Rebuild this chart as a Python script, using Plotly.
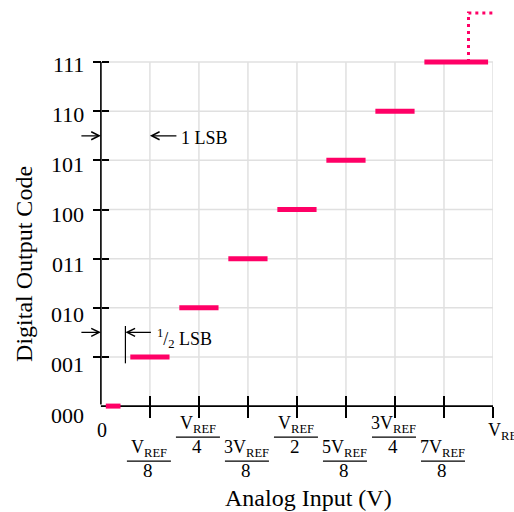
import plotly.graph_objects as go

# ---- data ----
codes = [0, 1, 2, 3, 4, 5, 6, 7]
code_labels = ["000", "001", "010", "011", "100", "101", "110", "111"]
bar_start = [0.1, 0.6, 1.6, 2.6, 3.6, 4.6, 5.6, 6.6]
bar_end = [0.4, 1.4, 2.4, 3.4, 4.4, 5.4, 6.4, 7.9]
overflow_x = [7.5, 7.5, 8.0]
overflow_y = [7, 8, 8]
x_ticks = [1, 2, 3, 4, 5, 6, 7, 8]
frac_num = ["V<sub>REF</sub>", "V<sub>REF</sub>", "3V<sub>REF</sub>", "V<sub>REF</sub>",
            "5V<sub>REF</sub>", "3V<sub>REF</sub>", "7V<sub>REF</sub>"]
frac_den = ["8", "4", "8", "2", "8", "4", "8"]
lsb_level = 5.5
half_lsb_level = 1.5

PINK = "#ff0066"
GRID = "#e0e0e0"
FONT = "Liberation Serif"

X_RANGE = [-0.1, 8]
Y_RANGE = [-0.1, 8.1]
UNIT_X = 49.0
UNIT_Y = 49.17
LEFT_PX = 101 + (X_RANGE[0] - 0) * UNIT_X
TOP_PX = 12.6 - (Y_RANGE[1] - 8) * UNIT_Y
BOT_PX = 406 + (0 - Y_RANGE[0]) * UNIT_Y


def xdom(v):
    return (v - X_RANGE[0]) / (X_RANGE[1] - X_RANGE[0])


def ydom(v):
    return (v - Y_RANGE[0]) / (Y_RANGE[1] - Y_RANGE[0])


X_AXIS_POS = ydom(0)
Y_AXIS_POS = xdom(0)

fig = go.Figure()

# grid lines (vertical only up to code 111, horizontal 0..VREF)
for xv in x_ticks:
    fig.add_shape(type="line", xref="x", yref="y", x0=xv, x1=xv, y0=0, y1=codes[-1],
                  line=dict(color=GRID, width=1.5), layer="below")
for c in codes[1:]:
    fig.add_shape(type="line", xref="x", yref="y", x0=0, x1=x_ticks[-1], y0=c, y1=c,
                  line=dict(color=GRID, width=1.5), layer="below")

# x axis line
fig.add_trace(go.Scatter(x=[0, x_ticks[-1]], y=[0, 0],
                         mode="lines", line=dict(color="black", width=1.6),
                         cliponaxis=False, hoverinfo="skip", showlegend=False))

# transfer-function steps
bx, by = [], []
for c, s, e in zip(codes, bar_start, bar_end):
    bx += [s, e, None]
    by += [c, c, None]
fig.add_trace(go.Scatter(x=bx, y=by, mode="lines", line=dict(color=PINK, width=5),
                         cliponaxis=False, hoverinfo="skip", showlegend=False))

# overflow dotted line
fig.add_trace(go.Scatter(x=overflow_x, y=overflow_y, mode="lines",
                         line=dict(color=PINK, width=3, dash="3px,4px"),
                         cliponaxis=False, hoverinfo="skip", showlegend=False))

# dummy trace for overlay axes
fig.add_trace(go.Scatter(x=[None], y=[None], xaxis="x2", yaxis="y2",
                         hoverinfo="skip", showlegend=False))

# y axis line (from code 000 up to code 111), drawn in the annotation layer
fig.add_annotation(x=0, y=codes[-1], ax=0, ay=codes[0], xref="x", yref="y",
                   axref="x", ayref="y", text="", showarrow=True, arrowhead=0,
                   arrowwidth=1.6, arrowcolor="black", standoff=0, startstandoff=0)

# y tick labels
for c, lab in zip(codes, code_labels):
    fig.add_annotation(x=0, y=c, xref="x", yref="y", text=lab, showarrow=False,
                       xanchor="right", yanchor="middle", xshift=-15,
                       yshift=-(2 + (codes[-1] - c)),
                       font=dict(family=FONT, size=22, color="black"))

# x tick labels
fig.add_annotation(x=0, y=0, xref="x", yref="y", text="0", showarrow=False,
                   xanchor="center", yanchor="middle", xshift=1, yshift=-24,
                   font=dict(family=FONT, size=20, color="black"))
fig.add_annotation(x=x_ticks[-1], y=0, xref="x", yref="y", text="V<sub>REF</sub>",
                   showarrow=False, xanchor="left", yanchor="middle", xshift=-7, yshift=-25,
                   font=dict(family=FONT, size=18, color="black"))
for i, (num, den) in enumerate(zip(frac_num, frac_den)):
    xv = x_ticks[i]
    low = (i % 2 == 0)
    num_y = -42 if low else -18
    den_y = -64 if low else -40
    line_y = -55 if low else -31
    fig.add_annotation(x=xv, y=0, xref="x", yref="y", text=num, showarrow=False,
                       xanchor="center", yanchor="middle", xshift=-1, yshift=num_y,
                       font=dict(family=FONT, size=18, color="black"))
    fig.add_annotation(x=xv, y=0, xref="x", yref="y", text=den, showarrow=False,
                       xanchor="center", yanchor="middle", xshift=-2, yshift=den_y,
                       font=dict(family=FONT, size=19, color="black"))
    fig.add_shape(type="line", xref="x", yref="paper", xsizemode="pixel", xanchor=xv,
                  x0=-23, x1=21, ysizemode="pixel", yanchor=X_AXIS_POS, y0=line_y, y1=line_y,
                  line=dict(color="black", width=1.2), layer="above")

# axis titles
fig.add_annotation(x=xdom(4.245), y=X_AXIS_POS, xref="paper", yref="paper",
                   text="Analog Input (V)",
                   showarrow=False, xanchor="center", yanchor="middle", yshift=-92,
                   font=dict(family=FONT, size=24, color="black"))
fig.add_annotation(x=xdom(-1.571), y=ydom(2.89), xref="paper", yref="paper",
                   text="Digital Output Code",
                   showarrow=False, textangle=-90, xanchor="center", yanchor="middle",
                   font=dict(family=FONT, size=24, color="black"))

# LSB arrows
arrow = dict(showarrow=True, arrowhead=5, arrowsize=1.3, arrowwidth=1.2,
             arrowcolor="black", text="", xref="x", yref="y", ay=0, standoff=0)
fig.add_annotation(x=0, y=lsb_level, ax=-21, **arrow)
fig.add_annotation(x=1, y=lsb_level, ax=28, **arrow)
fig.add_annotation(x=1, y=lsb_level, xref="x", yref="y", text="1 LSB", showarrow=False,
                   xanchor="left", yanchor="middle", xshift=29, yshift=-2,
                   font=dict(family=FONT, size=18, color="black"))

fig.add_annotation(x=0, y=half_lsb_level, ax=-21, **arrow)
fig.add_annotation(x=0.5, y=half_lsb_level, ax=27, **arrow)
fig.add_shape(type="line", xref="x", yref="y", x0=0.5, x1=0.5,
              y0=half_lsb_level - 0.63, y1=half_lsb_level + 0.13,
              line=dict(color="black", width=1.2), layer="above")
fig.add_annotation(x=0.5, y=half_lsb_level, xref="x", yref="y",
                   text="<sup style='font-size:14px'>1</sup>/<sub style='font-size:14px'>2</sub> LSB",
                   showarrow=False,
                   xanchor="left", yanchor="middle", xshift=30, yshift=-6,
                   font=dict(family=FONT, size=18, color="black"))

common_ax = dict(fixedrange=True, showticklabels=False, zeroline=False, showline=False,
                 showgrid=False, tickwidth=1.5, tickcolor="black", layer="below traces")
fig.update_layout(
    template="none",
    width=514, height=512, autosize=False,
    margin=dict(l=LEFT_PX, r=21, t=TOP_PX, b=512 - BOT_PX, pad=0),
    plot_bgcolor="white", paper_bgcolor="white", showlegend=False,
    xaxis=dict(range=X_RANGE, tickvals=x_ticks, ticks="outside", ticklen=11,
               anchor="free", position=X_AXIS_POS, **common_ax),
    xaxis2=dict(range=X_RANGE, overlaying="x", anchor="free", position=X_AXIS_POS,
                side="bottom", tickvals=x_ticks, ticks="inside", ticklen=10, **common_ax),
    yaxis=dict(range=Y_RANGE, tickvals=codes[1:], ticks="outside", ticklen=8,
               anchor="free", position=Y_AXIS_POS, **common_ax),
    yaxis2=dict(range=Y_RANGE, overlaying="y", anchor="free", position=Y_AXIS_POS,
                side="left", tickvals=codes[1:], ticks="inside", ticklen=7, **common_ax),
)

fig.write_html("out.html")
